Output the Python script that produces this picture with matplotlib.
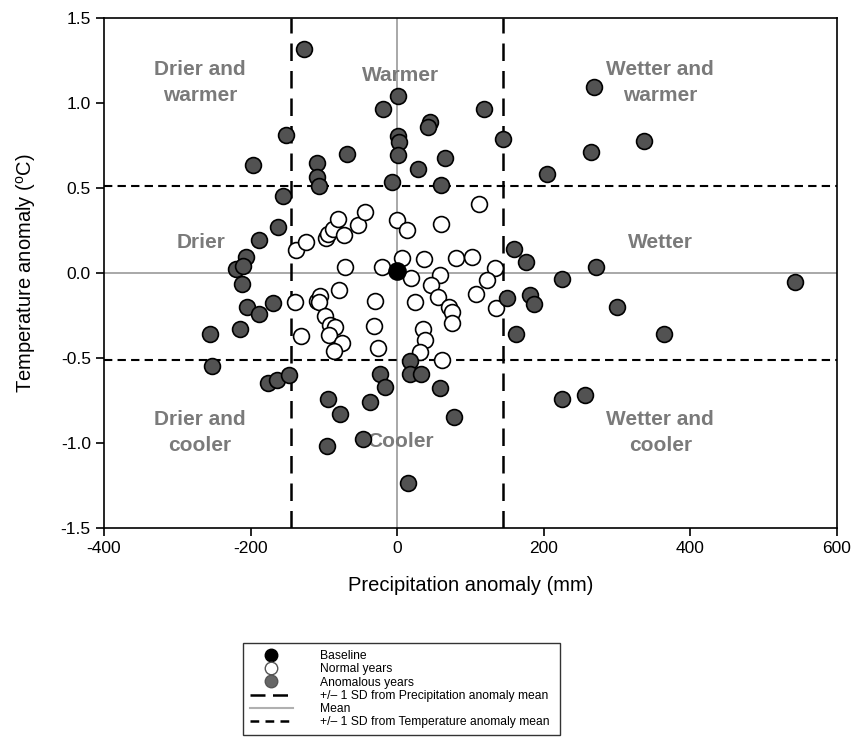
import matplotlib.pyplot as plt
from matplotlib.lines import Line2D

plt.rcParams['font.family'] = ['Liberation Sans', 'DejaVu Sans']
plt.rcParams['axes.unicode_minus'] = False

# baseline year
base_x = [0]
base_y = [0.01]

# normal years (precipitation anomaly mm, temperature anomaly C)
normal_x = [-138, -125, -97, -95, -88, -81, -72, -53, -44, -71, -21, 0, 14, 6,
            111, 60, 36, 80, 102, 134, 19, 58, 123, 46, 24, 55, 71, 75, 75,
            108, 135, 35, 38, 31, 61, -139, -131, -110, -105, -107, -79, -98,
            -91, -85, -93, -75, -86, -30, -31, -26]
normal_y = [0.135, 0.18, 0.205, 0.228, 0.26, 0.32, 0.224, 0.282, 0.36, 0.035,
            0.035, 0.31, 0.255, 0.086, 0.405, 0.287, 0.08, 0.086, 0.092, 0.03,
            -0.028, -0.01, -0.042, -0.071, -0.17, -0.14, -0.198, -0.23, -0.295,
            -0.124, -0.203, -0.331, -0.396, -0.465, -0.51, -0.172, -0.37,
            -0.163, -0.135, -0.173, -0.098, -0.255, -0.306, -0.316, -0.367,
            -0.412, -0.461, -0.165, -0.312, -0.439]

# anomalous years
anom_x = [-127, -152, -197, -68, -110, -109, -107, -19, 1, -7, 1, 3, 1, -156,
          -163, -188, -206, -220, -210, -212, -205, -170, -188, -214, -255,
          -252, -176, -164, -148, -94, -78, -96, -47, -37, -23, -16, 17, 18,
          33, 59, 77, 15, 225, 256, 160, 176, 225, 271, 150, 181, 186, 300,
          162, 364, 543, 60, 204, 119, 45, 42, 65, 28, 144, 269, 264, 337]
anom_y = [1.316, 0.81, 0.634, 0.70, 0.649, 0.566, 0.514, 0.963, 1.04, 0.537,
          0.806, 0.772, 0.694, 0.455, 0.272, 0.194, 0.096, 0.022, 0.04, -0.065,
          -0.198, -0.178, -0.243, -0.331, -0.359, -0.548, -0.649, -0.629, -0.6,
          -0.743, -0.829, -1.02, -0.978, -0.757, -0.594, -0.669, -0.518,
          -0.596, -0.596, -0.675, -0.849, -1.233, -0.743, -0.718, 0.143, 0.065,
          -0.035, 0.037, -0.147, -0.129, -0.184, -0.198, -0.361, -0.359,
          -0.055, 0.518, 0.584, 0.963, 0.886, 0.861, 0.678, 0.61, 0.788, 1.096,
          0.714, 0.776]

precip_sd = 145
temp_sd = 0.512

regions = ['Drier and\nwarmer', 'Warmer', 'Wetter and\nwarmer',
           'Drier', 'Wetter',
           'Drier and\ncooler', 'Cooler', 'Wetter and\ncooler']
region_x = [-269, 5, 359, -267, 359, -269, 5, 359]
region_y = [1.12, 1.16, 1.12, 0.18, 0.18, -0.94, -0.99, -0.94]

fig = plt.figure(figsize=(8.55, 7.39), dpi=100)
ax = fig.add_axes([0.1216, 0.2855, 0.8574, 0.69])

ax.axvline(0, color='#a8a8a8', lw=1.4, zorder=1)
ax.axhline(0, color='#a8a8a8', lw=1.4, zorder=1)
for v in (-precip_sd, precip_sd):
    ax.axvline(v, color='black', lw=1.8, dashes=(7, 4), zorder=1)
for v in (-temp_sd, temp_sd):
    ax.axhline(v, color='black', lw=1.5, dashes=(4, 2.5), zorder=1)

for t, x, y in zip(regions, region_x, region_y):
    ax.text(x, y, t, ha='center', va='center', fontsize=15, fontweight='bold',
            color='#7a7a7a', linespacing=1.45, zorder=2)

ax.scatter(normal_x, normal_y, s=130, facecolor='white', edgecolor='black',
           linewidth=1.2, zorder=3)
ax.scatter(anom_x, anom_y, s=130, facecolor='#525252', edgecolor='black',
           linewidth=1.2, zorder=3)
ax.scatter(base_x, base_y, s=150, facecolor='black', edgecolor='black',
           linewidth=1.2, zorder=4)

ax.set_xlim(-400, 600)
ax.set_ylim(-1.5, 1.5)
ax.set_xticks([-400, -200, 0, 200, 400, 600])
ax.set_yticks([-1.5, -1.0, -0.5, 0.0, 0.5, 1.0, 1.5])
ax.set_yticklabels(['-1.5', '-1.0', '-0.5', '0.0', '0.5', '1.0', '1.5'])
ax.tick_params(labelsize=12.5, length=6, width=1.2, direction='out')
for s in ax.spines.values():
    s.set_linewidth(1.2)
ax.set_xlabel('Precipitation anomaly (mm)', fontsize=14.5, labelpad=14)
ax.set_ylabel(r'Temperature anomaly ($\mathregular{^{o}}$C)', fontsize=14.5,
              labelpad=16)

handles = [
    Line2D([], [], ls='none', marker='o', ms=9, mfc='black', mec='black'),
    Line2D([], [], ls='none', marker='o', ms=9, mfc='white', mec='#555555'),
    Line2D([], [], ls='none', marker='o', ms=9, mfc='#666666', mec='#555555'),
    Line2D([], [], color='black', lw=1.8, dashes=(6, 3)),
    Line2D([], [], color='#b0b0b0', lw=1.5),
    Line2D([], [], color='black', lw=1.8, dashes=(3.5, 2.5)),
]
labels = ['Baseline', 'Normal years', 'Anomalous years',
          '+/\u2013 1 SD from Precipitation anomaly mean', 'Mean',
          '+/\u2013 1 SD from Temperature anomaly mean']
leg = fig.legend(handles, labels, loc='upper left',
                 bbox_to_anchor=(0.2842, 0.003, 0.3708, 0.127), mode='expand',
                 fontsize=8.7, frameon=True, fancybox=False, edgecolor='black',
                 handlelength=3.5, labelspacing=0.1, borderpad=0.6,
                 handletextpad=2.3, borderaxespad=0)
leg.get_frame().set_linewidth(1.0)

fig.savefig('out.png', dpi=100)
